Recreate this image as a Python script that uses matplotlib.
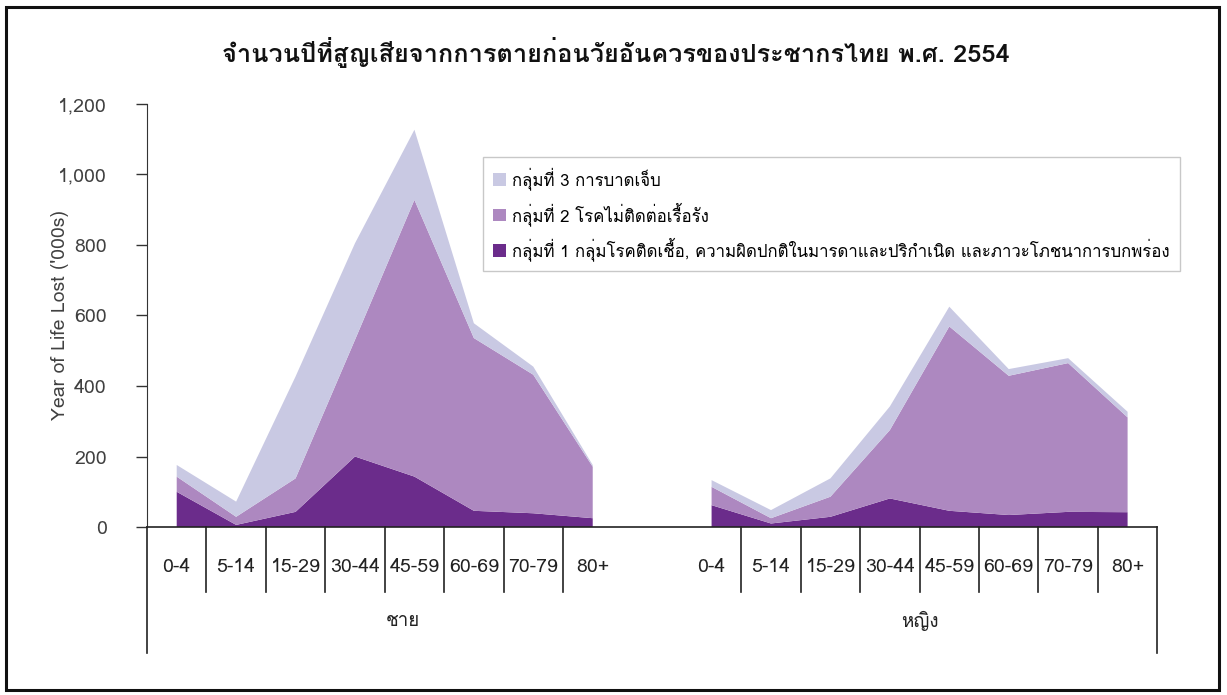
import numpy as np
import matplotlib
matplotlib.use("Agg")
import matplotlib.pyplot as plt
from matplotlib import font_manager
from matplotlib.ft2font import FT2Font
from matplotlib.patches import Rectangle


def thai_fonts():
    # หาฟอนต์ที่มีอักษรไทย
    found = []
    for f in font_manager.fontManager.ttflist:
        try:
            if 0x0E01 in FT2Font(f.fname).get_charmap():
                if f.name not in found:
                    found.append(f.name)
        except Exception:
            pass
    return found


thai = thai_fonts()
pref = [n for n in ["Loma", "Garuda", "Waree"] if n in thai] or thai[:1]
plt.rcParams['font.family'] = pref[:1] + ['DejaVu Sans']

# ข้อมูล (พันปี)
age_groups = ["0-4", "5-14", "15-29", "30-44", "45-59", "60-69", "70-79", "80+"]
sex_groups = ["ชาย", "หญิง"]
series_names = [
    "กลุ่มที่ 1 กลุ่มโรคติดเชื้อ, ความผิดปกติในมารดาและปริกำเนิด และภาวะโภชนาการบกพร่อง",
    "กลุ่มที่ 2 โรคไม่ติดต่อเรื้อรัง",
    "กลุ่มที่ 3 การบาดเจ็บ",
]
male_g1 = [100, 6, 43, 200, 143, 46, 39, 25]
male_g2 = [43, 23, 95, 331, 785, 490, 393, 146]
male_g3 = [33, 43, 289, 274, 199, 42, 23, 5]
female_g1 = [62, 10, 29, 81, 46, 34, 43, 42]
female_g2 = [52, 15, 57, 194, 523, 395, 422, 269]
female_g3 = [19, 23, 52, 67, 56, 19, 14, 16]

colors = ["#6b2c8b", "#ad88c0", "#c9c9e3"]

fig = plt.figure(figsize=(12.27, 6.95), dpi=100)
ax = fig.add_axes([0.1198, 0.2417, 0.8234, 0.6087])

n = len(age_groups)
x_m = np.arange(n)
x_f = np.arange(n) + n + 1

ax.stackplot(x_m, male_g1, male_g2, male_g3, colors=colors, labels=series_names)
ax.stackplot(x_f, female_g1, female_g2, female_g3, colors=colors)

ax.set_xlim(-0.5, 2 * n + 0.5)
ax.set_ylim(0, 1200)
ax.set_yticks(np.arange(0, 1201, 200))
ax.set_yticklabels([f"{v:,}" for v in range(0, 1201, 200)])
ax.tick_params(axis='y', length=8, width=1, color='#333333', labelsize=14,
               labelcolor='#404040', pad=21)
ax.set_ylabel("Year of Life Lost ('000s)", fontsize=14, color='#404040')
ax.yaxis.set_label_coords(-0.077, 0.5)

ax.set_xticks(list(x_m) + list(x_f))
ax.set_xticklabels(age_groups + age_groups, fontsize=14, color='#222222')
ax.tick_params(axis='x', length=0, pad=22)

for s in ['top', 'right']:
    ax.spines[s].set_visible(False)
ax.spines['left'].set_color('#333333')
ax.spines['bottom'].set_color('#222222')
ax.spines['bottom'].set_linewidth(1.2)

trans = ax.get_xaxis_transform()
# เส้นแบ่งหมวดหมู่
for xs in (x_m, x_f):
    for b in xs[1:] - 0.5:
        ax.plot([b, b], [0, -0.154], color='#222222', lw=1.2, transform=trans, clip_on=False)
for b in (-0.5, 2 * n + 0.5):
    ax.plot([b, b], [0, -0.298], color='#222222', lw=1.2, transform=trans, clip_on=False)

ax.text((-0.5 + n + 0.5) / 2 - 0.2, -0.222, sex_groups[0], transform=trans,
        ha='center', va='center', fontsize=13.5, color='#222222')
ax.text((n + 0.5 + 2 * n + 0.5) / 2, -0.222, sex_groups[1], transform=trans,
        ha='center', va='center', fontsize=13.5, color='#222222')

handles, labels = ax.get_legend_handles_labels()
leg = fig.legend(handles[::-1], labels[::-1], loc='upper left',
                 bbox_to_anchor=(483 / 1227, 1 - 157 / 695), borderaxespad=0,
                 fontsize=12.1, frameon=True, fancybox=False, edgecolor='#bbbbbb',
                 handlelength=0.75, handleheight=0.75, handletextpad=0.4,
                 labelspacing=0.7, borderpad=0.6)
leg.get_frame().set_linewidth(1.0)

fig.text(616 / 1227, 1 - 52 / 695,
         "จำนวนปีที่สูญเสียจากการตายก่อนวัยอันควรของประชากรไทย พ.ศ. 2554",
         ha='center', va='center', fontsize=18.2, fontweight='bold', color='#111111')

fig.patches.append(Rectangle((6 / 1227, 5 / 695), 1213 / 1227, 683 / 695,
                             transform=fig.transFigure, fill=False,
                             edgecolor='#111111', lw=2.2))

fig.savefig("out.png", dpi=100)
